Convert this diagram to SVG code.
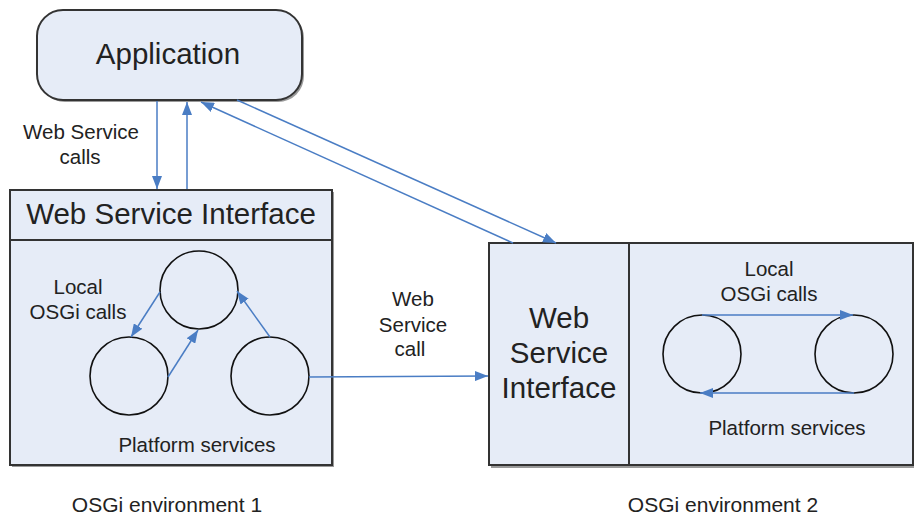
<svg xmlns="http://www.w3.org/2000/svg" width="914" height="516" viewBox="0 0 914 516">
  <defs>
    <marker id="arrow" viewBox="0 0 13 10" refX="13" refY="5" markerWidth="13" markerHeight="10" markerUnits="userSpaceOnUse" orient="auto">
      <path d="M0,0 L13,5 L0,10 Z" fill="#4a7dc4"/>
    </marker>
  </defs>
  <style>
    .box { fill: #e6ecf7; stroke: #333333; stroke-width: 2; }
    .shadow { fill: #9a9a9a; }
    .svc { fill: none; stroke: #111111; stroke-width: 1.6; }
    .link { fill: none; stroke: #4a7dc4; stroke-width: 1.5; marker-end: url(#arrow); }
    text { font-family: "Liberation Sans", Arial, sans-serif; fill: #222222; text-anchor: middle; }
    .big { font-size: 29.5px; }
    .small { font-size: 20.5px; }
    .env { font-size: 21px; }
  </style>
  <rect width="914" height="516" fill="#ffffff"/>

  <!-- Application -->
  <g id="application">
    <rect class="shadow" x="39" y="12" width="265" height="90" rx="26" ry="26"/>
    <rect class="box" x="37" y="10" width="265" height="90" rx="26" ry="26"/>
    <text class="big" x="168" y="64">Application</text>
  </g>

  <!-- OSGi environment 1 -->
  <g id="env1">
    <rect class="shadow" x="12" y="192" width="322" height="275"/>
    <rect class="box" x="10" y="190" width="322" height="275"/>
    <line x1="10" y1="240" x2="332" y2="240" stroke="#333333" stroke-width="2"/>
    <text class="big" x="171" y="224">Web Service Interface</text>
    <circle class="svc" cx="199" cy="290" r="39"/>
    <circle class="svc" cx="129" cy="376" r="39"/>
    <circle class="svc" cx="270" cy="376" r="39"/>
    <text class="small" x="78" y="294">Local</text>
    <text class="small" x="78" y="319">OSGi calls</text>
    <text class="small" x="197" y="452">Platform services</text>
    <text class="env" x="167" y="512">OSGi environment 1</text>
  </g>

  <!-- OSGi environment 2 -->
  <g id="env2">
    <rect class="shadow" x="491" y="245" width="423" height="223"/>
    <rect class="box" x="489" y="243" width="424" height="222"/>
    <line x1="629" y1="243" x2="629" y2="465" stroke="#333333" stroke-width="2"/>
    <text class="big" x="559" y="328">Web</text>
    <text class="big" x="559" y="363">Service</text>
    <text class="big" x="559" y="398">Interface</text>
    <circle class="svc" cx="702" cy="354" r="39"/>
    <circle class="svc" cx="854" cy="354" r="39"/>
    <text class="small" x="769" y="276">Local</text>
    <text class="small" x="769" y="301">OSGi calls</text>
    <text class="small" x="787" y="435">Platform services</text>
    <text class="env" x="723" y="512">OSGi environment 2</text>
  </g>

  <!-- Labels between nodes -->
  <g id="labels">
    <text class="small" x="81" y="139">Web Service</text>
    <text class="small" x="80" y="164">calls</text>
    <text class="small" x="413" y="306">Web</text>
    <text class="small" x="413" y="332">Service</text>
    <text class="small" x="410" y="356">call</text>
  </g>

  <!-- Connectors -->
  <g id="connectors">
    <line class="link" x1="157" y1="101" x2="157" y2="189"/>
    <line class="link" x1="187" y1="189" x2="187" y2="102"/>
    <line class="link" x1="237" y1="100" x2="556" y2="243"/>
    <line class="link" x1="513" y1="243" x2="201" y2="102"/>
    <line class="link" x1="309" y1="377" x2="488" y2="376"/>
    <line class="link" x1="160" y1="292" x2="131" y2="337"/>
    <line class="link" x1="168" y1="377" x2="198" y2="330"/>
    <line class="link" x1="270" y1="337" x2="237" y2="291"/>
    <line class="link" x1="702" y1="315" x2="853" y2="315"/>
    <line class="link" x1="854" y1="393" x2="700" y2="393"/>
  </g>
</svg>
